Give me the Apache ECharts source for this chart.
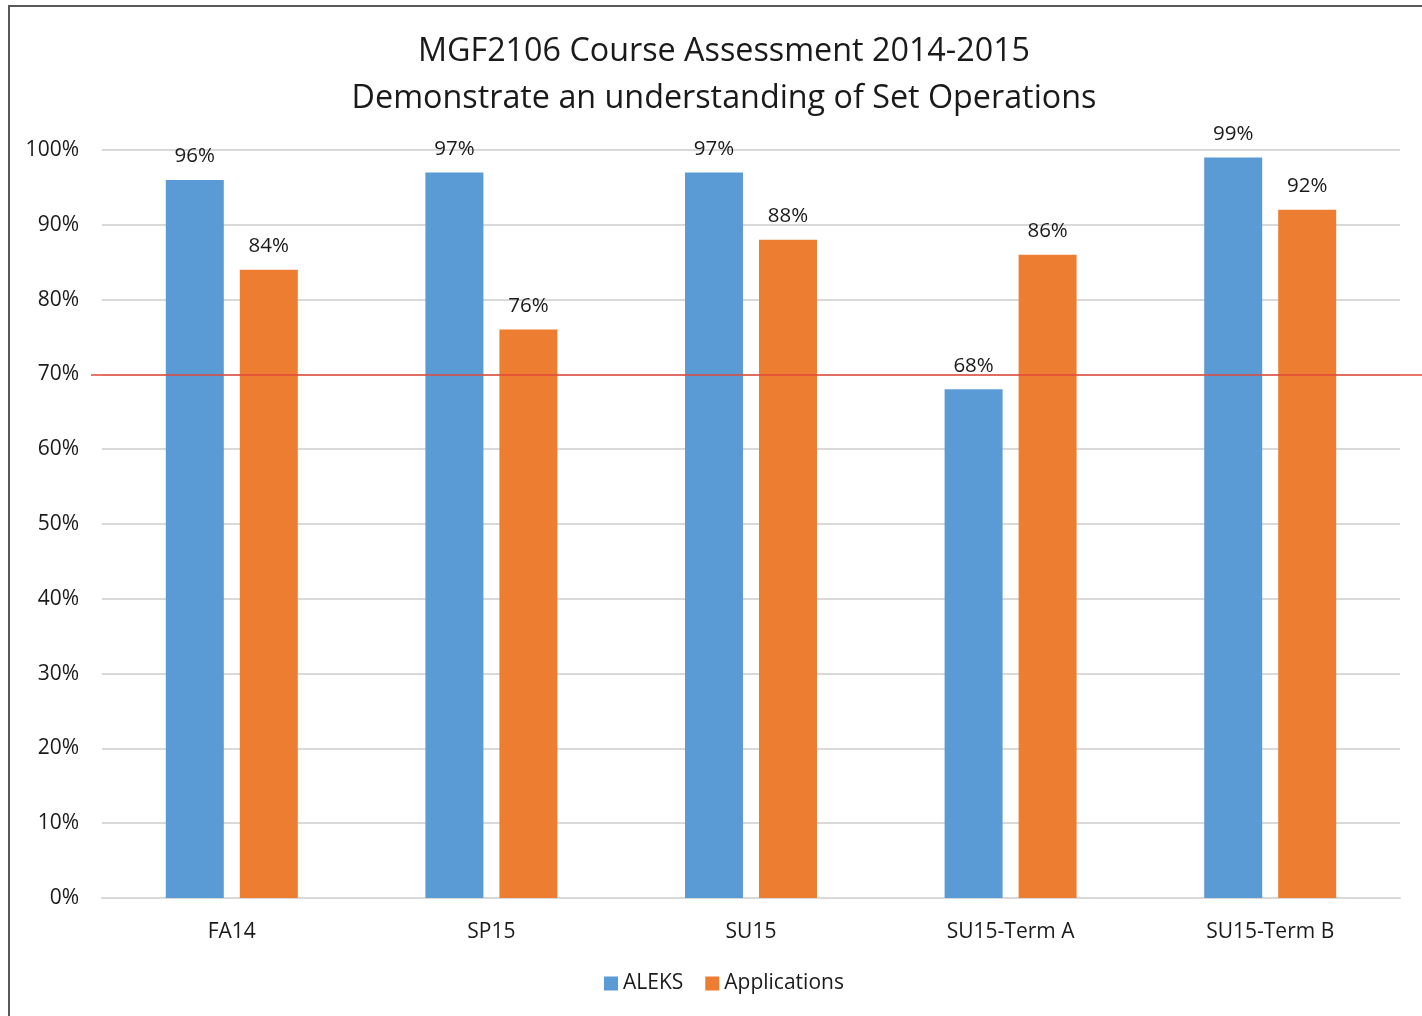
<!DOCTYPE html>
<html>
<head>
<meta charset="utf-8">
<script src="https://cdn.jsdelivr.net/npm/echarts@6/dist/echarts.min.js"></script>
<style>
    body { margin: 0; background: #fff; }
    #chart { width: 1422px; height: 1016px; }
    #frame {
        position: absolute; left: 8px; top: 5px; width: 1420px; height: 1020px;
        border-left: 2px solid #595959; border-top: 2px solid #595959;
        pointer-events: none;
    }
</style>
</head>
<body>
<div id="chart"></div>
<div id="frame"></div>
<script>
const categories = ['FA14', 'SP15', 'SU15', 'SU15-Term A', 'SU15-Term B'];
const aleks = [96, 97, 97, 68, 99];
const applications = [84, 76, 88, 86, 92];
const targetLine = 70;
const yTicks = { min: 0, max: 100, interval: 10 };

const FONT = 'Open Sans';
const TEXT = '#1a1a1a';
const chart = echarts.init(document.getElementById('chart'));

const labelStyle = {
    show: true,
    position: 'top',
    distance: 13,
    formatter: '{c}%',
    fontFamily: FONT,
    fontSize: 20.5,
    color: TEXT
};

const option = {
    backgroundColor: '#fff',
    animation: false,
    title: {
        text: 'MGF2106 Course Assessment 2014-2015\nDemonstrate an understanding of Set Operations',
        left: 719,
        textAlign: 'center',
        top: 23,
        textStyle: {
            fontFamily: FONT, fontSize: 32.3, fontWeight: 'normal',
            color: TEXT, lineHeight: 47
        }
    },
    legend: {
        data: ['ALEKS', 'Applications'],
        left: 604,
        top: 973,
        padding: 0,
        itemWidth: 14,
        itemHeight: 14,
        itemGap: 22,
        icon: 'rect',
        textStyle: { fontFamily: FONT, fontSize: 21, color: TEXT }
    },
    grid: [
        { left: 102, right: 22, top: 150, bottom: 118 },
        { left: 91, right: 0, top: 150, bottom: 118 }
    ],
    xAxis: [
        {
            type: 'category',
            gridIndex: 0,
            data: categories,
            axisLine: { lineStyle: { color: '#d9d9d9', width: 2 } },
            axisTick: { show: false },
            axisLabel: { fontFamily: FONT, fontSize: 21, color: TEXT, margin: 24 }
        },
        { type: 'value', gridIndex: 1, min: 0, max: 1, show: false }
    ],
    yAxis: [
        {
            type: 'value',
            gridIndex: 0,
            min: yTicks.min,
            max: yTicks.max,
            interval: yTicks.interval,
            axisLine: { show: false },
            axisTick: { show: false },
            splitLine: { lineStyle: { color: '#d9d9d9', width: 2 } },
            axisLabel: {
                formatter: '{value}%', fontFamily: FONT, fontSize: 21,
                color: TEXT, margin: 23, padding: [3, 0, 0, 0]
            }
        },
        { type: 'value', gridIndex: 1, min: yTicks.min, max: yTicks.max, show: false }
    ],
    series: [
        {
            name: 'ALEKS',
            type: 'bar',
            data: aleks,
            barWidth: 58,
            barGap: '27.6%',
            itemStyle: { color: '#5b9bd5' },
            label: labelStyle
        },
        {
            name: 'Applications',
            type: 'bar',
            data: applications,
            barWidth: 58,
            itemStyle: { color: '#ed7d31' },
            label: labelStyle
        },
        {
            name: 'Target',
            type: 'line',
            xAxisIndex: 1,
            yAxisIndex: 1,
            data: [],
            z: 10,
            markLine: {
                silent: true,
                symbol: 'none',
                label: { show: false },
                lineStyle: { color: '#e0483a', width: 1.5, type: 'solid' },
                data: [{ yAxis: targetLine }]
            }
        }
    ]
};

chart.setOption(option);
</script>
</body>
</html>
